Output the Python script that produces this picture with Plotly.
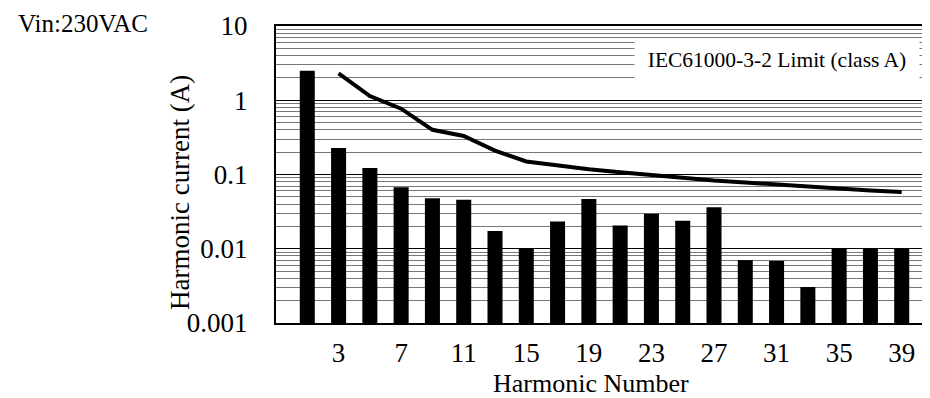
import plotly.graph_objects as go

# Harmonic order and measured current (A)
harmonics = [1, 3, 5, 7, 9, 11, 13, 15, 17, 19, 21, 23, 25, 27, 29, 31, 33, 35, 37, 39]
current = [2.5, 0.226, 0.121, 0.0665, 0.047, 0.0447, 0.0163, 0.0091, 0.0222, 0.0456,
           0.0196, 0.0287, 0.0229, 0.0353, 0.00603, 0.00585, 0.00205, 0.00891, 0.00905, 0.00905]

# IEC61000-3-2 class A limit (A)
limit_h = [3, 5, 7, 9, 11, 13, 15, 17, 19, 21, 23, 25, 27, 29, 31, 33, 35, 37, 39]
limit_a = [2.30, 1.14, 0.77, 0.40, 0.33, 0.21, 0.15, 0.132, 0.118, 0.107, 0.098,
           0.090, 0.083, 0.078, 0.073, 0.068, 0.064, 0.061, 0.058]

x_ticks = [3, 7, 11, 15, 19, 23, 27, 31, 35, 39]
y_ticks = [0.001, 0.01, 0.1, 1, 10]
y_labels = ["0.001", "0.01", "0.1", "1", "10"]

serif = "Liberation Serif, Times New Roman, serif"


def sfont(size):
    return dict(family=serif, size=size, color="black")


bars = go.Bar(x=harmonics, y=current, width=0.96, marker=dict(color="black", line=dict(width=0)),
              base=0.001, showlegend=False)
limit = go.Scatter(x=limit_h, y=limit_a, mode="lines", line=dict(color="black", width=4),
                   showlegend=False)

layout = go.Layout(
    width=930, height=398,
    margin=dict(l=268, r=3, t=16, b=83),
    paper_bgcolor="white", plot_bgcolor="white",
    font=sfont(26),
    xaxis=dict(range=[-1, 41], tickvals=x_ticks, ticktext=[str(v) for v in x_ticks],
               tickfont=sfont(27), showgrid=False, zeroline=False, showline=True,
               linecolor="black", linewidth=2, mirror=True, ticks="", ticklabelstandoff=5),
    yaxis=dict(type="log", range=[-3, 1], tickvals=y_ticks, ticktext=y_labels, tickfont=sfont(27),
               showgrid=True, gridcolor="black", gridwidth=1,
               minor=dict(dtick="D1", showgrid=True, gridcolor="#777777", gridwidth=1),
               zeroline=False, showline=True, linecolor="black", linewidth=2, mirror=True,
               ticks="", ticklabelstandoff=21),
    annotations=[
        # axis titles
        dict(text="Harmonic Number", xref="paper", yref="paper", x=0.479, y=-0.205,
             xanchor="center", yanchor="middle", showarrow=False, font=sfont(26)),
        dict(text="Harmonic current (A)", xref="paper", yref="paper", x=-0.145, y=0.44,
             xanchor="center", yanchor="middle", textangle=-90, showarrow=False, font=sfont(27)),
        dict(text="Vin:230VAC", xref="paper", yref="paper", x=-0.396, y=1.008,
             xanchor="left", yanchor="middle", showarrow=False, font=sfont(25)),
        # legend box
        dict(text="IEC61000-3-2 Limit (class A)", xref="paper", yref="paper", x=0.762, y=0.886,
             xanchor="center", yanchor="middle", showarrow=False, bgcolor="white",
             width=284, height=36, borderpad=0, font=sfont(21.5)),
    ],
)

fig = go.Figure(data=[bars, limit], layout=layout)
fig.write_html("out.html")
